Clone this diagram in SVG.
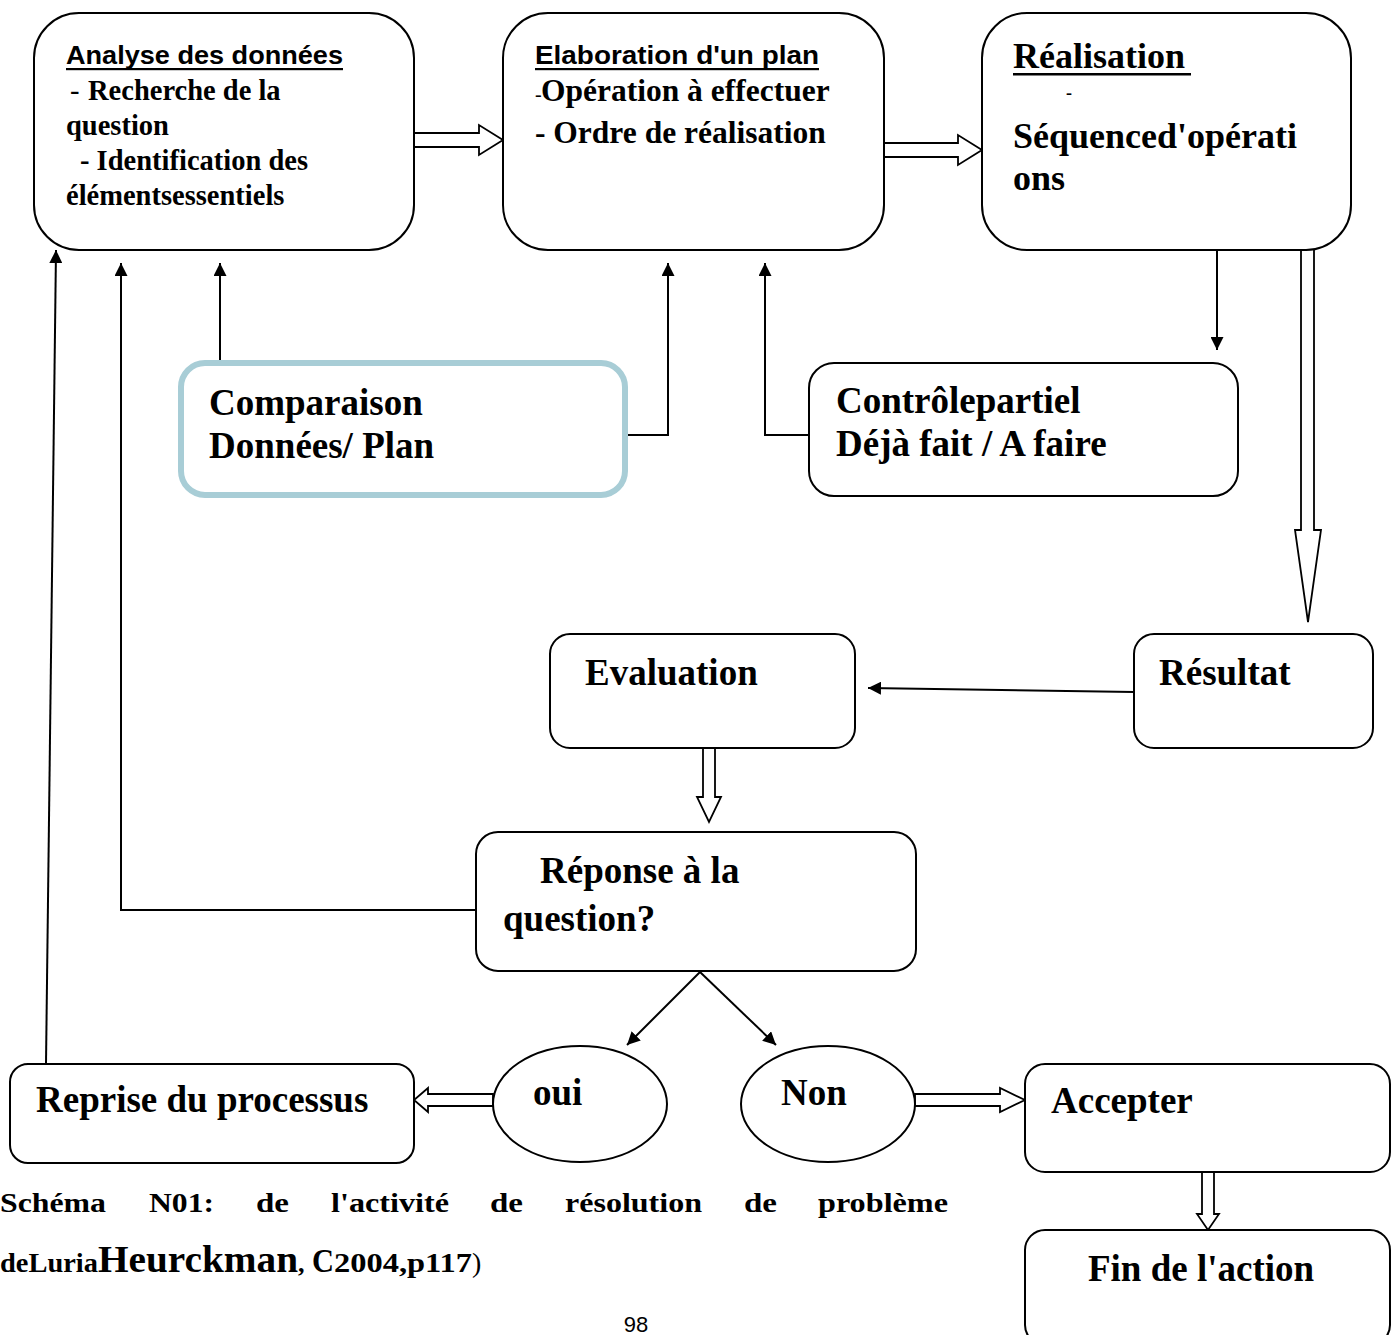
<svg xmlns="http://www.w3.org/2000/svg" width="1395" height="1335" viewBox="0 0 1395 1335">
<style>
.box{fill:#fff;stroke:#000;stroke-width:2}
.blue{fill:#fff;stroke:#A8CDD6;stroke-width:6}
.t{font-family:"Liberation Serif","Times New Roman",serif;font-weight:bold;fill:#000}
.s{font-family:"Liberation Sans",Arial,sans-serif;font-weight:bold;fill:#000}
.ln{fill:none;stroke:#000;stroke-width:2}
.ba{fill:#fff;stroke:#000;stroke-width:1.8;stroke-linejoin:miter}
</style>
<defs>
<marker id="ah" viewBox="0 0 10 10" refX="10" refY="5" markerWidth="13" markerHeight="13" markerUnits="userSpaceOnUse" orient="auto">
<path d="M0,0 L10,5 L0,10 z" fill="#000"/>
</marker>
</defs>
<rect width="1395" height="1335" fill="#fff"/>

<g id="connectors">
<path class="ba" d="M414,133 H479 V125 L503,140 L479,155 V147 H414 Z"/>
<path class="ba" d="M884,143 H958 V135 L982,150 L958,165 V157 H884 Z"/>
<path class="ba" d="M1301,250 V530 H1295 L1308,622 L1321,530 H1314 V250"/>
<path class="ba" d="M703,748 V797 H697 L709,822 L721,797 H715 V748"/>
<path class="ba" d="M493,1094 H428 V1088 L414,1100 L428,1112 V1106 H493 Z"/>
<path class="ba" d="M915,1094 H1000 V1088 L1025,1100 L1000,1112 V1106 H915 Z"/>
<path class="ba" d="M1202,1172 V1214 H1197 L1208,1230 L1219,1214 H1214 V1172"/>
<path class="ln" d="M1217,250 V350" marker-end="url(#ah)"/>
<path class="ln" d="M809,435 H765 V263" marker-end="url(#ah)"/>
<path class="ln" d="M220,362 V263" marker-end="url(#ah)"/>
<path class="ln" d="M626,435 H668 V263" marker-end="url(#ah)"/>
<path class="ln" d="M1134,692 L868,688" marker-end="url(#ah)"/>
<path class="ln" d="M476,910 H121 V263" marker-end="url(#ah)"/>
<path class="ln" d="M46,1064 L56,250" marker-end="url(#ah)"/>
<path class="ln" d="M700,972 L627,1045" marker-end="url(#ah)"/>
<path class="ln" d="M700,972 L776,1045" marker-end="url(#ah)"/>
</g>

<g id="analyse">
<rect class="box" x="34" y="13" width="380" height="237" rx="45"/>
<text class="s" x="66" y="64" font-size="26" textLength="277" lengthAdjust="spacingAndGlyphs">Analyse des données</text>
<rect x="66" y="68" width="277" height="2.2" fill="#000"/>
<text class="t" font-size="28.5"><tspan x="70" y="100" font-weight="normal">-</tspan><tspan x="88" y="100">Recherche de la</tspan><tspan x="66" y="135">question</tspan><tspan x="80" y="170">- Identification des</tspan><tspan x="66" y="205">élémentsessentiels</tspan></text>
</g>

<g id="plan">
<rect class="box" x="503" y="13" width="381" height="237" rx="45"/>
<text class="s" x="535" y="64" font-size="26" textLength="284" lengthAdjust="spacingAndGlyphs">Elaboration d'un plan</text>
<rect x="535" y="68" width="284" height="2.2" fill="#000"/>
<text class="t" font-size="31.5"><tspan x="535" y="101" font-size="20" font-weight="normal">-</tspan><tspan x="541" y="101">Opération à effectuer</tspan><tspan x="535" y="143">- Ordre de réalisation</tspan></text>
</g>

<g id="realisation">
<rect class="box" x="982" y="13" width="369" height="237" rx="45"/>
<text class="t" x="1013" y="68" font-size="36">Réalisation</text>
<rect x="1013" y="73" width="178" height="2.5" fill="#000"/>
<text class="t" x="1066" y="99" font-size="18" font-weight="normal">-</text>
<text class="t" x="1013" y="148" font-size="36">Séquenced'opérati</text>
<text class="t" x="1013" y="190" font-size="36">ons</text>
</g>

<g id="comparaison">
<rect class="blue" x="181" y="363" width="444" height="132" rx="24"/>
<text class="t" x="209" y="415" font-size="37">Comparaison</text>
<text class="t" x="209" y="458" font-size="37">Données/ Plan</text>
</g>

<g id="controle">
<rect class="box" x="809" y="363" width="429" height="133" rx="25"/>
<text class="t" x="836" y="413" font-size="37">Contrôlepartiel</text>
<text class="t" x="836" y="456" font-size="37">Déjà fait / A faire</text>
</g>

<g id="resultat">
<rect class="box" x="1134" y="634" width="239" height="114" rx="20"/>
<text class="t" x="1159" y="685" font-size="37">Résultat</text>
</g>

<g id="evaluation">
<rect class="box" x="550" y="634" width="305" height="114" rx="20"/>
<text class="t" x="585" y="685" font-size="37">Evaluation</text>
</g>

<g id="reponse">
<rect class="box" x="476" y="832" width="440" height="139" rx="22"/>
<text class="t" x="540" y="883" font-size="37">Réponse à la</text>
<text class="t" x="503" y="931" font-size="37">question?</text>
</g>

<g id="oui">
<ellipse class="box" cx="580" cy="1104" rx="87" ry="58"/>
<text class="t" x="533" y="1105" font-size="37">oui</text>
</g>

<g id="non">
<ellipse class="box" cx="828" cy="1104" rx="87" ry="58"/>
<text class="t" x="781" y="1105" font-size="37">Non</text>
</g>

<g id="reprise">
<rect class="box" x="10" y="1064" width="404" height="99" rx="18"/>
<text class="t" x="36" y="1112" font-size="37">Reprise du processus</text>
</g>

<g id="accepter">
<rect class="box" x="1025" y="1064" width="365" height="108" rx="20"/>
<text class="t" x="1051" y="1113" font-size="37">Accepter</text>
</g>

<g id="fin">
<rect class="box" x="1025" y="1230" width="365" height="115" rx="20"/>
<text class="t" x="1201" y="1281" font-size="37" text-anchor="middle">Fin de l'action</text>
</g>

<g id="caption">
<text class="t" y="1212" font-size="28"><tspan x="0" textLength="106" lengthAdjust="spacingAndGlyphs">Schéma</tspan><tspan x="149" textLength="65" lengthAdjust="spacingAndGlyphs">N01:</tspan><tspan x="256" textLength="33" lengthAdjust="spacingAndGlyphs">de</tspan><tspan x="331" textLength="118" lengthAdjust="spacingAndGlyphs">l'activité</tspan><tspan x="490" textLength="33" lengthAdjust="spacingAndGlyphs">de</tspan><tspan x="565" textLength="137" lengthAdjust="spacingAndGlyphs">résolution</tspan><tspan x="744" textLength="33" lengthAdjust="spacingAndGlyphs">de</tspan><tspan x="818" textLength="130" lengthAdjust="spacingAndGlyphs">problème</tspan></text>
<text class="t" y="1272" font-size="28"><tspan x="0" textLength="98" lengthAdjust="spacingAndGlyphs">deLuria</tspan><tspan x="98" font-size="37" textLength="200" lengthAdjust="spacingAndGlyphs">Heurckman</tspan><tspan x="298" font-size="26">,</tspan><tspan x="312" font-size="34" textLength="22" lengthAdjust="spacingAndGlyphs">C</tspan><tspan x="334" textLength="138" lengthAdjust="spacingAndGlyphs">2004,p117</tspan><tspan x="472" font-weight="normal">)</tspan></text>
<text x="636" y="1332" font-size="22" text-anchor="middle" font-family="Liberation Sans, Arial, sans-serif" fill="#000">98</text>
</g>
</svg>
